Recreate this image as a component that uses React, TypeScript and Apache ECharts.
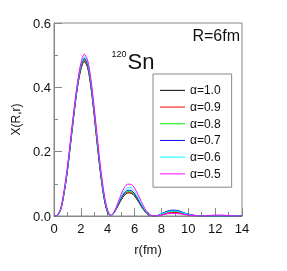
import React, { useEffect, useRef } from "react";
import * as echarts from "echarts";

const R = [0,0.25,0.5,0.75,1,1.25,1.5,1.75,2,2.25,2.5,2.75,3,3.25,3.5,3.75,4,4.25,4.5,4.75,5,5.25,5.5,5.75,6,6.25,6.5,6.75,7,7.25,7.5,7.75,8,8.25,8.5,8.75,9,9.25,9.5,9.75,10,10.5,11,11.5,12,12.5,13,13.5,14];

const a10 = [0,0.002,0.02,0.07,0.14,0.23,0.32,0.40,0.455,0.48,0.462,0.40,0.31,0.21,0.12,0.05,0.01,0.001,
  0.012,0.03,0.05,0.065,0.072,0.071,0.062,0.047,0.03,0.015,0.005,0.001,0.0,
  0.002,0.005,0.009,0.012,0.013,0.013,0.012,0.009,0.006,0.004,0.001,0,0,0,0,0,0,0];
const a09 = [0,0.002,0.02,0.071,0.142,0.232,0.323,0.403,0.459,0.484,0.466,0.404,0.314,0.213,0.122,0.052,0.011,0.001,
  0.012,0.031,0.051,0.067,0.074,0.073,0.064,0.048,0.031,0.016,0.005,0.001,0.0,
  0.001,0.004,0.007,0.01,0.011,0.011,0.01,0.008,0.005,0.003,0.001,0,0,0,0,0,0,0];
const a08 = [0,0.002,0.021,0.072,0.143,0.234,0.325,0.405,0.462,0.487,0.469,0.408,0.318,0.217,0.125,0.054,0.012,0.001,
  0.013,0.032,0.053,0.069,0.076,0.075,0.066,0.05,0.032,0.016,0.006,0.001,0.0,
  0.002,0.006,0.011,0.014,0.016,0.016,0.015,0.012,0.008,0.005,0.001,0,0,0,0,0,0,0];
const a07 = [0,0.002,0.021,0.073,0.145,0.236,0.328,0.408,0.465,0.49,0.473,0.412,0.322,0.221,0.128,0.056,0.013,0.001,
  0.013,0.034,0.056,0.072,0.08,0.079,0.069,0.052,0.034,0.017,0.006,0.001,0.0,
  0.002,0.007,0.012,0.016,0.018,0.018,0.017,0.013,0.009,0.006,0.002,0,0,0,0,0,0,0];
const a06 = [0,0.002,0.022,0.075,0.148,0.24,0.33,0.41,0.469,0.495,0.478,0.418,0.328,0.227,0.133,0.06,0.015,0.001,
  0.014,0.037,0.061,0.079,0.088,0.087,0.076,0.058,0.038,0.02,0.007,0.001,0.0,
  0.002,0.006,0.01,0.013,0.015,0.015,0.014,0.011,0.008,0.005,0.001,0,0,0,0,0,0,0];
const a05 = [0,0.003,0.025,0.08,0.155,0.245,0.335,0.415,0.475,0.503,0.485,0.425,0.335,0.235,0.14,0.065,0.018,0.002,
  0.015,0.04,0.068,0.089,0.099,0.098,0.087,0.067,0.045,0.024,0.009,0.002,0.0,
  0.001,0.003,0.005,0.007,0.008,0.008,0.007,0.006,0.004,0.003,0.001,0,0.001,0.003,0.003,0.001,0,0];

const seriesNames = ["α=1.0", "α=0.9", "α=0.8", "α=0.7", "α=0.6", "α=0.5"];
const seriesValues = [a10, a09, a08, a07, a06, a05];
const seriesColors = ["#000000", "#ff0000", "#00ee00", "#0000ff", "#00ffff", "#ff00ff"];

export default function App() {
  const ref = useRef<HTMLDivElement>(null);
  useEffect(() => {
    if (!ref.current) return;
    const chart = echarts.init(ref.current, null, { renderer: "svg" });
    const font = "'Liberation Sans', Arial, sans-serif";
    chart.setOption({
      animation: false,
      grid: { left: 54, right: 45, top: 23, bottom: 55, show: true, borderColor: "#888", borderWidth: 1 },
      xAxis: {
        type: "value", min: 0, max: 14, interval: 2,
        name: "r(fm)", nameLocation: "middle", nameGap: 27,
        nameTextStyle: { fontSize: 13, color: "#111", fontFamily: font },
        axisLine: { lineStyle: { color: "#888" } },
        axisTick: { inside: true, length: 8, lineStyle: { color: "#888" } },
        minorTick: { show: true, splitNumber: 2, length: 4, lineStyle: { color: "#888" } },
        splitLine: { show: false },
        axisLabel: { fontSize: 13, color: "#111", margin: 6, fontFamily: font },
      },
      yAxis: {
        type: "value", min: 0, max: 0.6, interval: 0.2,
        name: "X(R,r)", nameLocation: "middle", nameGap: 21, nameRotate: 90,
        nameTextStyle: { fontSize: 12, color: "#111", fontFamily: font },
        axisLine: { show: true, lineStyle: { color: "#888" } },
        axisTick: { show: true, inside: true, length: 8, lineStyle: { color: "#888" } },
        minorTick: { show: true, splitNumber: 2, length: 4, lineStyle: { color: "#888" } },
        splitLine: { show: false },
        axisLabel: { fontSize: 13, color: "#111", margin: 3, fontFamily: font, formatter: (v: number) => v.toFixed(1) },
      },
      legend: {
        orient: "vertical", left: 153, top: 74,
        padding: [8, 11, 5, 7],
        backgroundColor: "#fff", borderColor: "#888", borderWidth: 1, borderRadius: 0,
        icon: "rect", itemWidth: 25, itemHeight: 1, itemGap: 0, itemTextGap: 8,
        textStyle: { fontSize: 12, color: "#111", lineHeight: 16.7, fontFamily: font },
        data: seriesNames,
      },
      series: seriesNames.map((n, i) => ({
        name: n, type: "line", smooth: 0.3, showSymbol: false, symbol: "none",
        color: seriesColors[i],
        lineStyle: { width: 1, color: seriesColors[i] },
        data: R.map((r, j) => [r, seriesValues[i][j]]),
      })),
      graphic: [
        { type: "text", x: 240, y: 35, style: { text: "R=6fm", align: "right", verticalAlign: "middle", fontSize: 16, fill: "#111", fontFamily: font } },
        { type: "text", x: 127.5, y: 61, style: { text: "Sn", align: "left", verticalAlign: "middle", fontSize: 22, fill: "#111", fontFamily: font } },
        { type: "text", x: 111.5, y: 54, style: { text: "120", align: "left", verticalAlign: "middle", fontSize: 9, fill: "#111", fontFamily: font } },
      ],
    });
    return () => chart.dispose();
  }, []);
  return <div ref={ref} style={{ position: "fixed", left: 0, top: 0, width: 287, height: 271 }} />;
}
